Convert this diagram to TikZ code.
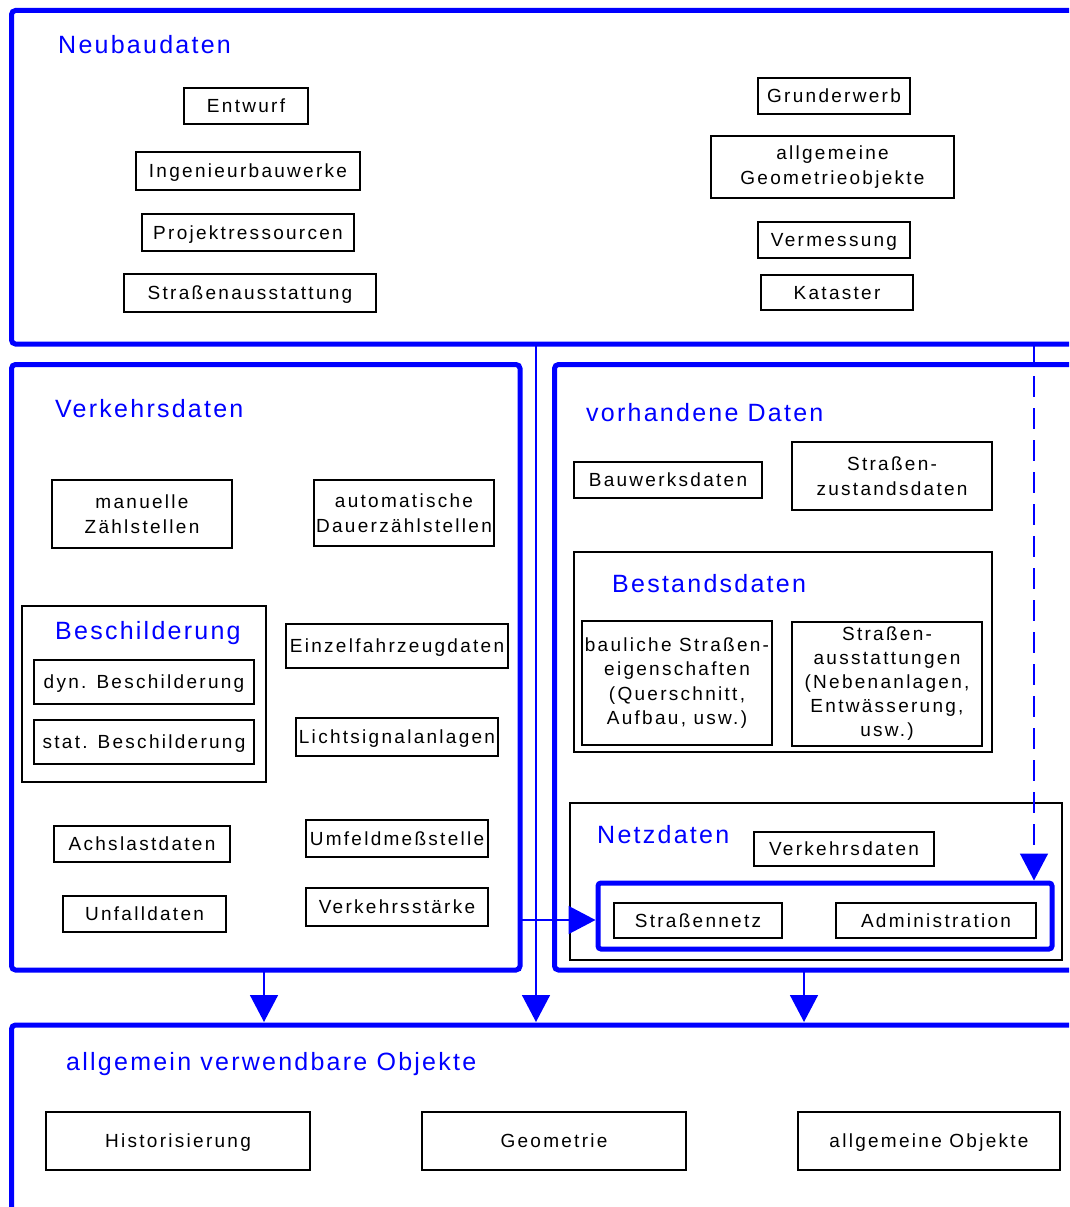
\documentclass[tikz,border=0pt]{standalone}
\usepackage{fontspec}
\setmainfont{Liberation Sans}[LetterSpace=12]
\newfontfamily\titlefam{Liberation Sans}[LetterSpace=9]
\usepackage{tikz}
\usetikzlibrary{arrows.meta,calc,positioning}
\definecolor{Blue}{HTML}{0000FF}
\tikzset{cell/.style={draw=black,line width=1.4pt,fill=white,align=center,inner sep=0pt,font=\fontsize{19}{24.5}\selectfont},box/.style={cell,text depth=0pt},mbox/.style={cell},group/.style={draw=black,line width=1.4pt,inner sep=0pt},panel/.style={draw=Blue,line width=5pt,rounded corners=4pt},netzbox/.style={draw=Blue,line width=5pt,rounded corners=3pt,inner sep=0pt},title/.style={text=Blue,anchor=base west,inner sep=0pt,font=\titlefam\fontsize{25}{30}\selectfont},flow/.style={-{Triangle[length=27pt,width=28pt]},draw=Blue,line width=1.5pt}}
\begin{document}
\begin{tikzpicture}[x=1pt,y=-1pt]
        \useasboundingbox(0,0)rectangle(1069,1207);
        \clip(0,0)rectangle(1069,1207);
        \draw[panel](11.5,10.5)rectangle(1100,344);
        \draw[panel](11.5,364.5)rectangle(520,970);
        \draw[panel](554.5,364.5)rectangle(1100,970);
        \draw[panel](11.5,1025)rectangle(1100,1260);
        \coordinate(nb1)at(536,344);\coordinate(nb2)at(1034,344);
        \coordinate(vk1)at(264,970);\coordinate(vk2)at(520,920);
        \coordinate(vd1)at(804,970);
        \coordinate(ob1)at(264,1022);\coordinate(ob2)at(536,1022);\coordinate(ob3)at(804,1022);
        \node[title]at(58,54){Neubaudaten};
        \node[box,minimum width=124,minimum height=36](entwurf)at(246,106){Entwurf};
        \node[box,minimum width=224,minimum height=38](ingbw)at(248,171){Ingenieurbauwerke};
        \node[box,minimum width=212,minimum height=37](projres)at(248,232.5){Projektressourcen};
        \node[box,minimum width=252,minimum height=38](strausst)at(250,293){Straßenausstattung};
        \node[box,minimum width=152,minimum height=36](grund)at(834,96){Grunderwerb};
        \node[mbox,minimum width=243,minimum height=62](allggeo)at(832.5,167){allgemeine\\Geometrieobjekte};
        \node[box,minimum width=152,minimum height=36](verm)at(834,240){Vermessung};
        \node[box,minimum width=152,minimum height=35](kat)at(837,292.5){Kataster};
        \node[title]at(55,417){Verkehrsdaten};
        \node[mbox,minimum width=180,minimum height=68](manuell)at(142,514){manuelle\\Zählstellen};
        \node[mbox,minimum width=180,minimum height=66](auto)at(404,513){automatische\\Dauerzählstellen};
        \node[group,minimum width=244,minimum height=176](besch)at(144,694){};
        \node[title]at(55,639){Beschilderung};
        \node[box,minimum width=220,minimum height=44](dyn)at(144,682){dyn. Beschilderung};
        \node[box,minimum width=220,minimum height=44](stat)at(144,742){stat. Beschilderung};
        \node[box,minimum width=222,minimum height=44](einzel)at(397,646){Einzelfahrzeugdaten};
        \node[box,minimum width=202,minimum height=38](licht)at(397,737){Lichtsignalanlagen};
        \node[box,minimum width=176,minimum height=36](achs)at(142,844){Achslastdaten};
        \node[box,minimum width=182,minimum height=37](umfeld)at(397,838.5){Umfeldmeßstelle};
        \node[box,minimum width=163,minimum height=36](unfall)at(144.5,914){Unfalldaten};
        \node[box,minimum width=182,minimum height=38](vstaerke)at(397,907){Verkehrsstärke};
        \node[title]at(586,421){vorhandene Daten};
        \node[box,minimum width=188,minimum height=36](bauwerk)at(668,480){Bauwerksdaten};
        \node[mbox,minimum width=200,minimum height=68](strzust)at(892,476){Straßen-\\zustandsdaten};
        \node[group,minimum width=418,minimum height=200](bestand)at(783,652){};
        \node[title]at(612,592){Bestandsdaten};
        \node[mbox,minimum width=190,minimum height=124](baul)at(677,683){bauliche Straßen-\\eigenschaften\\(Querschnitt,\\Aufbau, usw.)};
        \node[mbox,minimum width=190,minimum height=124,font=\fontsize{19}{24}\selectfont](straus)at(887,684){Straßen-\\ausstattungen\\(Nebenanlagen,\\Entwässerung,\\usw.)};
        \node[group,minimum width=492,minimum height=157](netzdaten)at(816,881.5){};
        \node[title]at(597,843){Netzdaten};
        \node[box,minimum width=180,minimum height=34](verkd)at(844,849){Verkehrsdaten};
        \node[netzbox,minimum width=454,minimum height=66](netz)at(825,916){};
        \node[box,minimum width=168,minimum height=35](strnetz)at(698,920.5){Straßennetz};
        \node[box,minimum width=200,minimum height=35](admin)at(936,920.5){Administration};
        \node[title]at(66,1070){allgemein verwendbare Objekte};
        \node[box,minimum width=264,minimum height=58](hist)at(178,1141){Historisierung};
        \node[box,minimum width=264,minimum height=58](geo)at(554,1141){Geometrie};
        \node[box,minimum width=262,minimum height=58](allgobj)at(929,1141){allgemeine Objekte};
        \draw[flow](nb1)--(ob2);
        \draw[flow](vk1)--(ob1);
        \draw[flow](vd1)--(ob3);
        \draw[flow](vk2)--(netz.west|-vk2);
        \draw[flow,dash pattern=on 21pt off 11pt](nb2)--(nb2|-netz.north);
      \end{tikzpicture}
\end{document}
